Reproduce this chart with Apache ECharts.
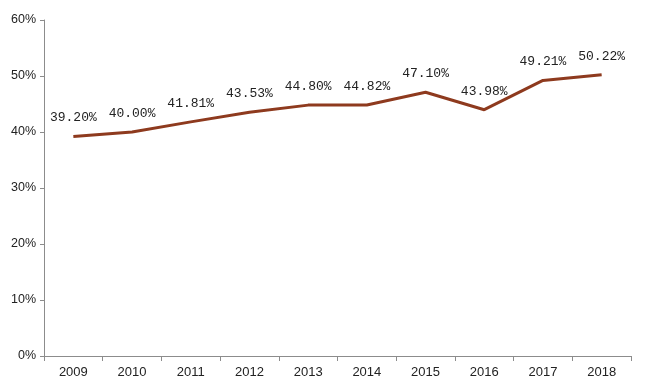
<!DOCTYPE html>
<html><head><meta charset="utf-8">
<script src="https://cdn.jsdelivr.net/npm/echarts@6/dist/echarts.min.js"></script>
<style>html,body{margin:0;padding:0;background:#fff}#c{width:650px;height:390px}</style>
</head><body><div id="c"></div>
<script>
const years = ['2009','2010','2011','2012','2013','2014','2015','2016','2017','2018'];
const values = [39.20, 40.00, 41.81, 43.53, 44.80, 44.82, 47.10, 43.98, 49.21, 50.22];
const yTicks = [0, 10, 20, 30, 40, 50, 60];
const chart = echarts.init(document.getElementById('c'));
chart.setOption({
  animation: false,
  grid: {left: 44, right: 19, top: 20, bottom: 34},
  xAxis: {
    type: 'category', data: years, boundaryGap: true,
    axisLine: {lineStyle: {color: '#8c8c8c', width: 1}},
    axisTick: {show: true, length: 5, inside: false, alignWithLabel: false, lineStyle: {color: '#8c8c8c'}},
    axisLabel: {color: '#222', fontSize: 13, fontFamily: 'Liberation Sans, sans-serif', margin: 10}
  },
  yAxis: {
    type: 'value', min: yTicks[0], max: yTicks[yTicks.length-1], interval: 10,
    axisLine: {show: true, lineStyle: {color: '#8c8c8c', width: 1}},
    axisTick: {show: true, length: 4, lineStyle: {color: '#8c8c8c'}},
    splitLine: {show: false},
    axisLabel: {color: '#222', fontSize: 12.5, fontFamily: 'Liberation Sans, sans-serif', margin: 8, formatter: v => v + '%'}
  },
  series: [{
    type: 'line', data: values, symbol: 'circle', symbolSize: 2, showSymbol: true,
    itemStyle: {color: 'rgba(0,0,0,0)'},
    lineStyle: {color: '#8e3a1e', width: 3},
    label: {show: true, position: 'top', distance: 11, color: '#222', fontSize: 13,
      fontFamily: 'Liberation Mono, DejaVu Sans Mono, monospace',
      formatter: p => p.value.toFixed(2) + '%'}
  }]
});
</script></body></html>
